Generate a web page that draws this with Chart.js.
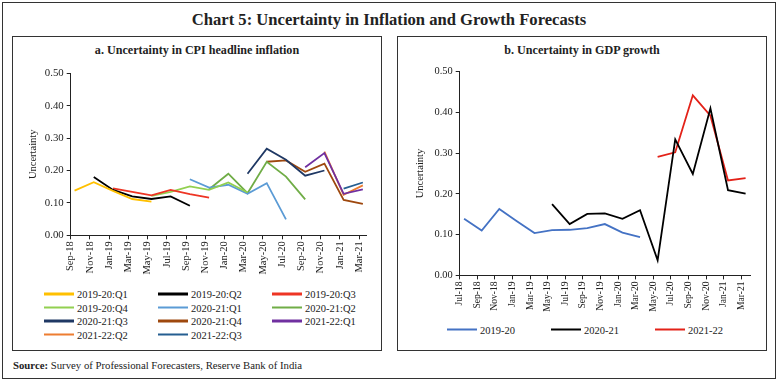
<!DOCTYPE html>
<html><head><meta charset="utf-8">
<script src="https://cdn.jsdelivr.net/npm/chart.js@4"></script>
<style>
body{margin:0;background:#fff;font-family:"Liberation Serif",serif;color:#222;}
.abs{position:absolute;}
.box{position:absolute;border:1.5px solid #333;box-sizing:border-box;}
.ptitle{position:absolute;font-weight:bold;font-size:12.1px;white-space:nowrap;transform:translate(-50%,-50%);}
.leg{position:absolute;font-size:10.5px;white-space:nowrap;display:flex;align-items:center;transform:translateY(-50%);}
.leg span.sw{display:inline-block;width:30px;height:2.5px;margin-right:3px;}
</style></head>
<body>
<div class="box" style="left:2px;top:2px;width:774px;height:377px;border-width:1px;"></div>
<div class="ptitle" style="left:389px;top:20px;font-size:16.6px;">Chart 5: Uncertainty in Inflation and Growth Forecasts</div>
<div class="box" style="left:12px;top:36px;width:370px;height:315px;"></div>
<div class="box" style="left:397px;top:36px;width:370px;height:315px;"></div>
<div class="ptitle" style="left:197px;top:50px;">a. Uncertainty in CPI headline inflation</div>
<div class="ptitle" style="left:582px;top:50px;">b. Uncertainty in GDP growth</div>
<canvas id="c1" class="abs" style="left:12px;top:36px;" width="370" height="244"></canvas>
<canvas id="c2" class="abs" style="left:397px;top:36px;" width="369" height="284"></canvas>
<div id="leg1"></div>
<div id="leg2"></div>
<div class="abs" style="left:13px;top:359px;font-size:10.75px;white-space:nowrap;"><b>Source:</b> Survey of Professional Forecasters, Reserve Bank of India</div>
<script>
// ---- Panel a data ----
const catsA = ["Sep-18","Nov-18","Jan-19","Mar-19","May-19","Jul-19","Sep-19","Nov-19","Jan-20","Mar-20","May-20","Jul-20","Sep-20","Nov-20","Jan-21","Mar-21"];
const namesA = ["2019-20:Q1","2019-20:Q2","2019-20:Q3","2019-20:Q4","2020-21:Q1","2020-21:Q2","2020-21:Q3","2020-21:Q4","2021-22:Q1","2021-22:Q2","2021-22:Q3"];
const colorsA = ["#FFC000","#000000","#EE3524","#92D050","#5B9BD5","#70AD47","#1F3864","#9E480E","#7030A0","#ED7D31","#255E91"];
const q1_1920 = [0.138,0.164,0.137,0.112,0.104,null,null,null,null,null,null,null,null,null,null,null];
const q2_1920 = [null,0.180,0.140,0.120,0.112,0.120,0.091,null,null,null,null,null,null,null,null,null];
const q3_1920 = [null,null,0.145,0.134,0.123,0.140,0.127,0.116,null,null,null,null,null,null,null,null];
const q4_1920 = [null,null,null,null,0.122,0.134,0.151,0.140,0.163,0.132,null,null,null,null,null,null];
const q1_2021 = [null,null,null,null,null,null,0.173,0.147,0.156,0.128,0.161,0.049,null,null,null,null];
const q2_2021 = [null,null,null,null,null,null,null,0.142,0.190,0.130,0.227,0.181,0.111,null,null,null];
const q3_2021 = [null,null,null,null,null,null,null,null,null,0.190,0.267,0.233,0.184,0.200,null,null];
const q4_2021 = [null,null,null,null,null,null,null,null,null,null,0.227,0.231,0.196,0.221,0.109,0.097];
const q1_2122 = [null,null,null,null,null,null,null,null,null,null,null,null,0.210,0.254,0.128,0.142];
const q2_2122 = [null,null,null,null,null,null,null,null,null,null,null,null,null,0.258,0.125,0.154];
const q3_2122 = [null,null,null,null,null,null,null,null,null,null,null,null,null,null,0.144,0.163];
const seriesA = [q1_1920,q2_1920,q3_1920,q4_1920,q1_2021,q2_2021,q3_2021,q4_2021,q1_2122,q2_2122,q3_2122];

// ---- Panel b data ----
const catsB = ["Jul-18","Sep-18","Nov-18","Jan-19","Mar-19","May-19","Jul-19","Sep-19","Nov-19","Jan-20","Mar-20","May-20","Jul-20","Sep-20","Nov-20","Jan-21","Mar-21"];
const namesB = ["2019-20","2020-21","2021-22"];
const colorsB = ["#4472C4","#000000","#E32219"];
const gdp1920 = [0.139,0.110,0.163,0.133,0.104,0.111,0.112,0.116,0.126,0.105,0.094,null,null,null,null,null,null];
const gdp2021 = [null,null,null,null,null,0.175,0.126,0.151,0.152,0.139,0.160,0.037,0.334,0.249,0.410,0.209,0.201];
const gdp2122 = [null,null,null,null,null,null,null,null,null,null,null,0.291,0.302,0.442,0.392,0.233,0.239];
const seriesB = [gdp1920,gdp2021,gdp2122];
const yTicks = [0,0.1,0.2,0.3,0.4,0.5];

const FONT = "'Liberation Serif', serif";

function toXY(arr){ const o=[]; arr.forEach((v,i)=>{ if(v!==null) o.push({x:i,y:v}); }); return o; }

function makeChart(id, cats, names, colors, series, cfg){
  const datasets = series.map((s,k)=>({label:names[k], data:toXY(s), borderColor:colors[k], backgroundColor:colors[k], borderWidth:1.8, pointRadius:0, tension:0, fill:false}));
  return new Chart(document.getElementById(id), {
    type:'line',
    data:{datasets},
    options:{
      responsive:false, animation:false, devicePixelRatio:1,
      layout:{padding:{top:cfg.top,right:cfg.right,left:0,bottom:0}},
      plugins:{legend:{display:false},tooltip:{enabled:false}},
      scales:{
        x:{type:'linear', min:cfg.xmin, max:cats.length-1+cfg.xmax,
          afterBuildTicks:(sc)=>{ sc.ticks = cats.map((c,i)=>({value:i+cfg.tickShift})); },
          afterFit:(sc)=>{ sc.height = cfg.xh; },
          ticks:{autoSkip:false, minRotation:90, maxRotation:90, padding:2, color:'#222',
            font:{family:FONT,size:cfg.xfs},
            callback:(v,i)=>cats[i]},
          grid:{display:true, drawOnChartArea:false, drawTicks:true, tickLength:4, color:'#222'},
          border:{display:true,color:'#222',width:1}
        },
        y:{min:0,max:0.5,
          afterBuildTicks:(sc)=>{ sc.ticks = yTicks.map(v=>({value:v})); },
          afterFit:(sc)=>{ sc.width = cfg.yw; },
          ticks:{padding:3,color:'#222',font:{family:FONT,size:cfg.yfs},callback:(v)=>Number(v).toFixed(2)},
          grid:{display:true, drawOnChartArea:false, drawTicks:true, tickLength:4, color:'#222'},
          border:{display:true,color:'#222',width:1},
          title:{display:true,text:'Uncertainty',color:'#222',font:{family:FONT,size:10.5},padding:{top:cfg.tpad,bottom:0}}
        }
      }
    }
  });
}

makeChart('c1', catsA, namesA, colorsA, seriesA, {top:37.3,right:15.3,xh:44.7,yw:58.7,xmin:-0.2,xmax:0.2,tickShift:-0.2,tpad:14.7,xfs:10.5,yfs:10.8});
makeChart('c2', catsB, namesB, colorsB, seriesB, {top:35.7,right:16,xh:44.6,yw:62.7,xmin:-0.25,xmax:0.25,tickShift:-0.25,tpad:16.7,xfs:9.6,yfs:10.4});

// HTML legends
function legend(el, names, colors, cols, rowsY, colsX){
  const root=document.getElementById(el);
  names.forEach((n,k)=>{
    const d=document.createElement('div'); d.className='leg';
    d.style.left=colsX[k%cols]+'px'; d.style.top=rowsY[Math.floor(k/cols)]+'px';
    d.innerHTML='<span class="sw" style="background:'+colors[k]+'"></span>'+n;
    root.appendChild(d);
  });
}
legend('leg1', namesA, colorsA, 3, [294,307.5,321,334.5], [44,158,272]);
legend('leg2', namesB, colorsB, 3, [329.5], [447,551,655]);
</script>
</body></html>
